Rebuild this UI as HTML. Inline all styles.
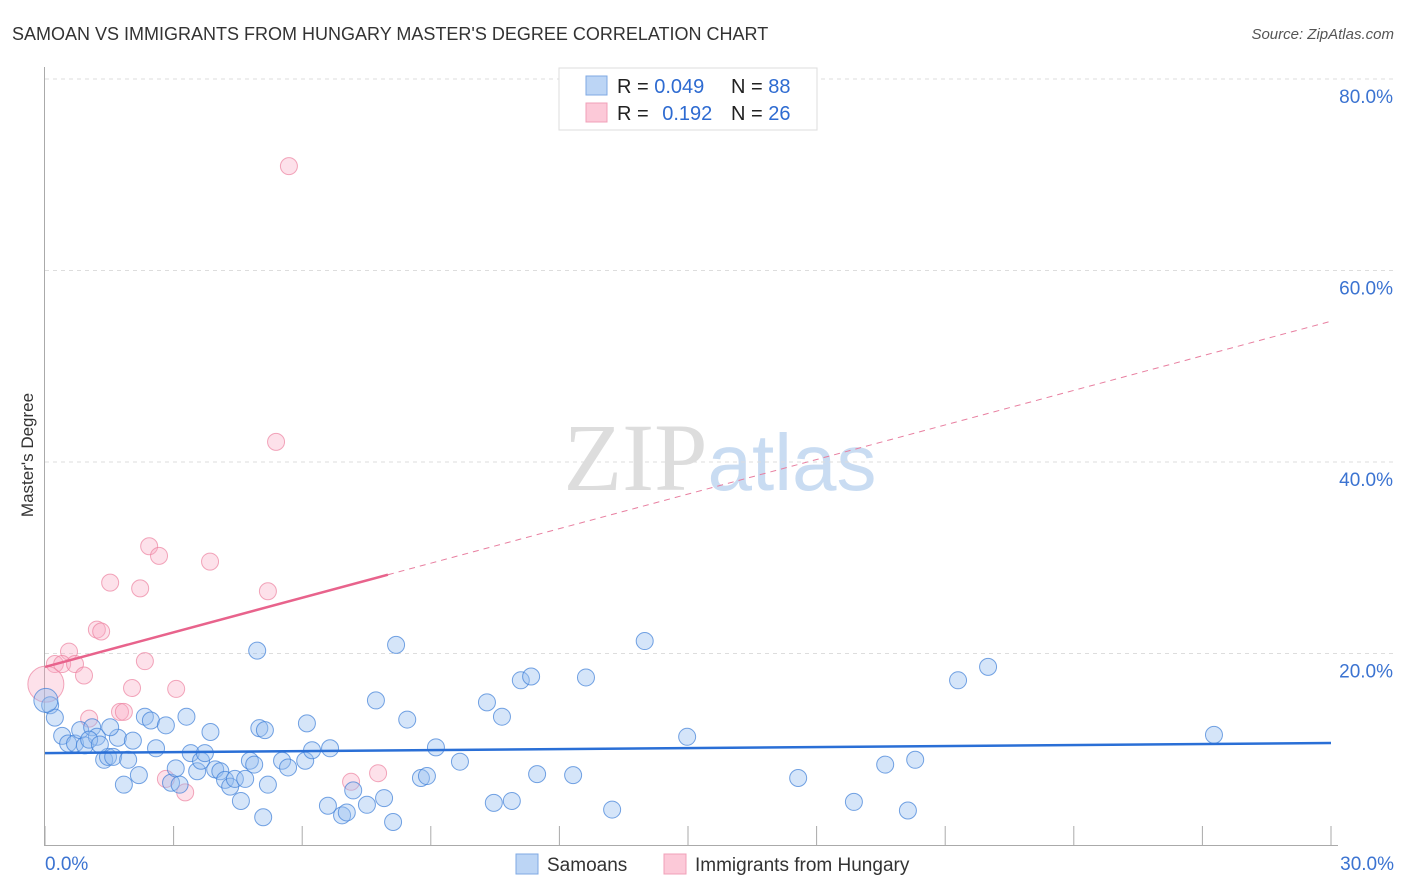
<!DOCTYPE html>
<html><head><meta charset="utf-8"><style>
body{margin:0;background:#fff;font-family:"Liberation Sans",sans-serif;}
svg{display:block}
</style></head><body>
<svg id="chart" width="1406" height="892" xmlns="http://www.w3.org/2000/svg">
<text x="12" y="40" font-size="18" fill="#333">SAMOAN VS IMMIGRANTS FROM HUNGARY MASTER'S DEGREE CORRELATION CHART</text>
<text x="1394" y="39" font-size="15" fill="#555" font-style="italic" text-anchor="end">Source: ZipAtlas.com</text>
<text x="720" y="490" font-size="96" fill="#ddd" text-anchor="middle" font-family="Liberation Serif">ZIP<tspan fill="#c9dcf2" font-family="Liberation Sans" font-size="80">atlas</tspan></text>
<g id="grid"></g>
<g id="axes"></g>
<g id="marks"></g>
<text transform="translate(33,455) rotate(-90)" font-size="17" fill="#333" text-anchor="middle">Master's Degree</text>
<g>
<rect x="559" y="68" width="258" height="62" fill="#fff" stroke="#ddd"/>
<rect x="586" y="76" width="21" height="19" fill="#bcd5f5" stroke="#7fa9e3"/>
<rect x="586" y="103" width="21" height="19" fill="#fcc9d8" stroke="#f0a0b8"/>
<text x="617" y="93" font-size="20" fill="#222">R = <tspan fill="#2e6bd1">0.049</tspan></text>
<text x="731" y="93" font-size="20" fill="#222">N = <tspan fill="#2e6bd1">88</tspan></text>
<text x="617" y="120" font-size="20" fill="#222">R = <tspan fill="#2e6bd1" dx="8">0.192</tspan></text>
<text x="731" y="120" font-size="20" fill="#222">N = <tspan fill="#2e6bd1">26</tspan></text>
</g>
<g>
<rect x="516" y="854" width="22" height="20" fill="#bcd5f5" stroke="#7fa9e3"/>
<text x="547" y="871" font-size="19" fill="#333">Samoans</text>
<rect x="664" y="854" width="22" height="20" fill="#fcc9d8" stroke="#f0a0b8"/>
<text x="695" y="871" font-size="19" fill="#333">Immigrants from Hungary</text>
</g>
</svg>
<script>
const yTicks=[20,40,60,80];
const yTickLabels=["20.0%","40.0%","60.0%","80.0%"];
const xTicks=[0,3,6,9,12,15,18,21,24,27,30];
const xEndLabels=["0.0%","30.0%"];
const samoanX=[0.12,0.23,0.4,0.54,0.7,0.82,0.93,1.1,1.21,1.38,1.47,1.59,1.7,1.84,1.94,2.05,2.19,2.33,2.47,2.59,2.82,2.94,3.05,3.14,3.3,3.4,3.55,3.64,3.73,3.86,3.97,4.09,4.2,4.32,4.43,4.57,4.67,4.78,4.88,5.09,4.95,5.0,5.13,5.2,5.53,5.67,6.11,6.07,6.23,6.65,6.6,6.93,7.04,7.19,7.51,7.72,7.91,8.12,8.19,8.45,8.77,8.91,9.12,9.68,10.31,10.47,10.66,10.89,11.1,11.34,11.48,12.32,12.62,13.23,13.99,14.98,17.57,18.87,19.6,20.13,20.3,21.3,22.0,27.27,0.02,1.03,1.28,1.52];
const samoanY=[14.6,13.3,11.4,10.6,10.6,12.0,10.4,12.3,11.3,8.9,9.2,9.2,11.2,6.3,8.9,10.9,7.3,13.4,13.0,10.1,12.5,6.5,8.0,6.3,13.4,9.6,7.7,8.8,9.6,11.8,7.9,7.7,6.8,6.1,6.9,4.6,6.9,8.8,8.4,2.9,20.3,12.2,12.0,6.3,8.8,8.1,12.7,8.8,9.9,10.1,4.1,3.1,3.4,5.7,4.2,15.1,4.9,2.4,20.9,13.1,7.0,7.2,10.2,8.7,14.9,4.4,13.4,4.6,17.2,17.6,7.4,7.3,17.5,3.7,21.3,11.3,7.0,4.5,8.4,3.6,8.9,17.2,18.6,11.5,15.1,11.0,10.5,12.3];
const hungaryX=[5.69,5.39,2.43,2.66,3.85,1.52,2.22,5.2,1.21,1.31,0.56,0.23,0.4,0.7,0.91,2.33,2.03,3.06,1.75,1.84,1.03,2.82,3.27,7.14,7.77,0.02];
const hungaryY=[70.9,42.1,31.2,30.2,29.6,27.4,26.8,26.5,22.5,22.3,20.2,18.9,18.9,18.9,17.7,19.2,16.4,16.3,13.9,13.9,13.2,6.9,5.5,6.6,7.5,16.8];
const blueTrend=[9.6,10.65];
const pinkTrend=[18.6,54.7];
const pinkSolidEnd=8.0;

const NS="http://www.w3.org/2000/svg";
const X=v=>45+v/30*1286;
const Y=v=>845-v/20*191.5;
function mk(tag,attrs,parent){const e=document.createElementNS(NS,tag);for(const k in attrs)e.setAttribute(k,attrs[k]);parent.appendChild(e);return e;}
const grid=document.getElementById('grid'),axes=document.getElementById('axes'),marks=document.getElementById('marks');
yTicks.forEach((t,i)=>{
 const l=mk('line',{x1:45,x2:1394,y1:Y(t),y2:Y(t),stroke:'#ddd','stroke-dasharray':'4,4'},grid);
 
 
 const tx=mk('text',{x:1393,y:Y(t)+24,'font-size':19,fill:'#3b73d1','text-anchor':'end'},axes);
 tx.textContent=yTickLabels[i];
 
 
});
const la=mk('line',{x1:44.5,x2:44.5,y1:67,y2:845,stroke:'#aaa'},axes);


const ba=mk('line',{x1:44,x2:1338,y1:845.5,y2:845.5,stroke:'#aaa'},axes);


xTicks.forEach(t=>{
 const l=mk('line',{x1:X(t),x2:X(t),y1:826,y2:845,stroke:'#aaa'},axes);
 
 
});
const xl0=mk('text',{x:45,y:870,'font-size':19,fill:'#3b73d1'},axes);xl0.textContent=xEndLabels[0];


const xl1=mk('text',{x:1394,y:870,'font-size':19,fill:'#3b73d1','text-anchor':'end'},axes);xl1.textContent=xEndLabels[1];



hungaryX.forEach((x,i)=>{
 const c=mk('circle',{cx:X(x),cy:Y(hungaryY[i]),r:i===25?18:8.5,fill:'rgba(248,170,195,0.35)',stroke:'rgba(236,130,160,0.7)','stroke-width':1},marks);
 
 
});
samoanX.forEach((x,i)=>{
 const c=mk('circle',{cx:X(x),cy:Y(samoanY[i]),r:i===84?12:8.5,fill:'rgba(150,190,240,0.4)',stroke:'rgba(60,125,215,0.7)','stroke-width':1},marks);
 
 
});
const pt=v=>pinkTrend[0]+(pinkTrend[1]-pinkTrend[0])*v/30;
const pd=mk('line',{x1:X(pinkSolidEnd),y1:Y(pt(pinkSolidEnd)),x2:X(30),y2:Y(pinkTrend[1]),stroke:'#e87fa0','stroke-width':1,'stroke-dasharray':'6,5'},marks);


const ps=mk('line',{x1:X(0),y1:Y(pinkTrend[0]),x2:X(pinkSolidEnd),y2:Y(pt(pinkSolidEnd)),stroke:'#e8638c','stroke-width':2.5},marks);


const bl=mk('line',{x1:X(0),y1:Y(blueTrend[0]),x2:X(30),y2:Y(blueTrend[1]),stroke:'#2a6fd6','stroke-width':2.5},marks);


</script>
</body></html>
